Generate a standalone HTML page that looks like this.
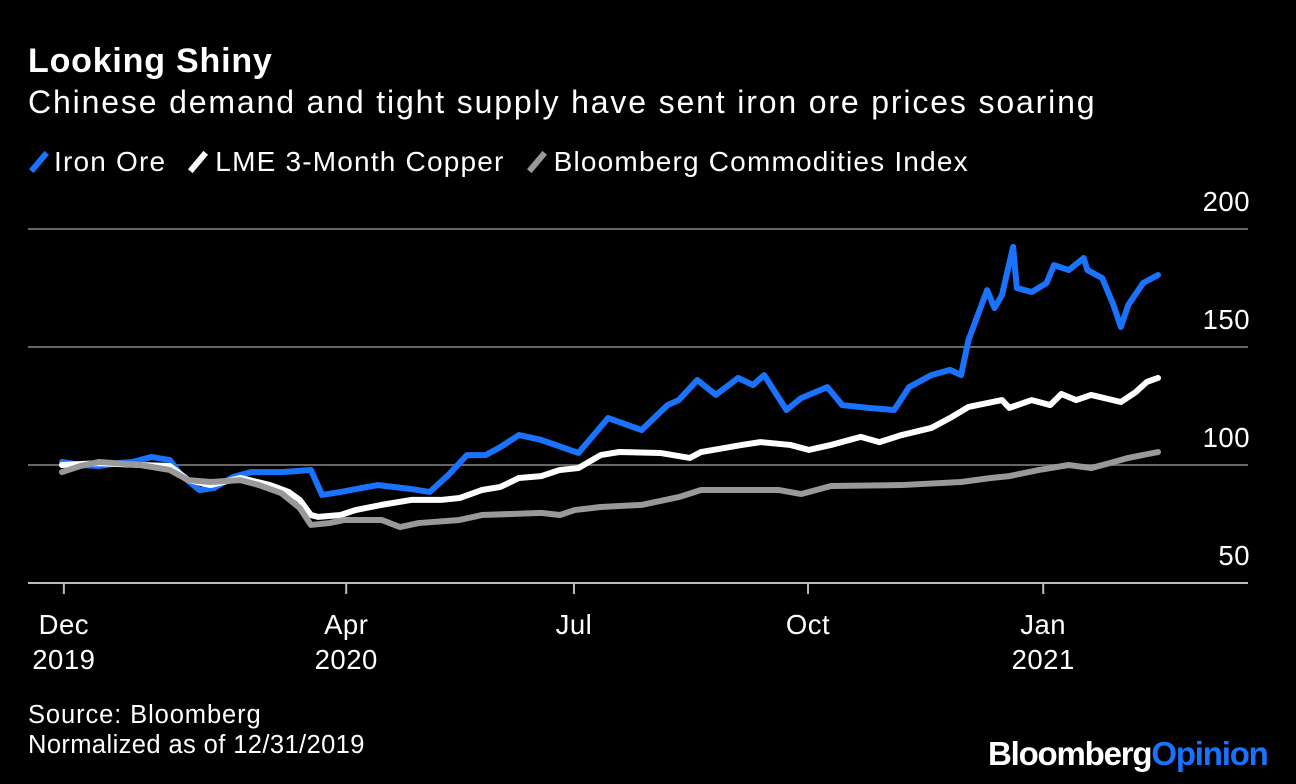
<!DOCTYPE html>
<html><head><meta charset="utf-8"><style>
html,body{margin:0;padding:0;background:#000;width:1296px;height:784px;overflow:hidden;font-family:"Liberation Sans",sans-serif;color:#fff}
.t{position:absolute;white-space:nowrap}
</style></head><body>
<div class="t" style="left:28px;top:42px;font-size:34px;font-weight:bold;letter-spacing:0.8px">Looking Shiny</div>
<div class="t" style="left:28px;top:84px;font-size:32px;letter-spacing:1.85px">Chinese demand and tight supply have sent iron ore prices soaring</div>
<div class="t" style="left:28px;top:146px;font-size:28px;letter-spacing:1.2px">
<span><span style="display:inline-block;width:6px;height:24px;background:#1a73ff;transform:rotate(40deg);vertical-align:-3px;margin:0 12px 0 8px"></span>Iron Ore</span>
<span><span style="display:inline-block;width:6px;height:24px;background:#fff;transform:rotate(40deg);vertical-align:-3px;margin:0 14px 0 20px"></span>LME 3-Month Copper</span>
<span><span style="display:inline-block;width:6px;height:24px;background:#999;transform:rotate(40deg);vertical-align:-3px;margin:0 14px 0 20px"></span>Bloomberg Commodities Index</span>
</div>
<svg id="chart" width="1296" height="784" style="position:absolute;left:0;top:0"></svg>
<div class="t" style="left:28px;top:701px;font-size:25.5px;letter-spacing:0.9px">Source: Bloomberg</div>
<div class="t" style="left:28px;top:731px;font-size:25.5px;letter-spacing:0.4px">Normalized as of 12/31/2019</div>
<div class="t" style="left:988px;top:735px;font-size:33px;font-weight:bold;letter-spacing:-1.2px">Bloomberg<span style="color:#1a73ff">Opinion</span></div>
<script>
const ironDays=[0,5,10,15,19,24,29,32,37,41,46,51,59,67,70,75,85,94,99,104,109,114,118,123,129,139,147,156,163,166,171,176,182,186,189,195,199,206,210,217,224,228,234,239,242,244,249,251,253,256,257,261,265,267,271,275,276,280,283,285,287,291,295];
const ironVals=[101.3,100,99.6,100.8,101.3,103.4,102.1,95.8,89.4,90.3,94.9,97,97,97.9,87.3,88.6,91.5,89.8,88.6,95.8,104.2,104.2,107.6,112.7,110.6,105.1,119.9,114.8,125.4,127.5,136,129.7,136.9,133.9,138.1,123.3,128.4,133,125.4,124.2,123.3,133,138.1,140.3,138.1,153,174.1,166.5,172,192.4,175,173.3,177.1,184.7,182.6,187.7,182.6,179.2,167.8,158.5,167.8,177.1,180.5];
const copperDays=[0,10,21,29,34,40,48,56,61,64,67,69,75,79,86,94,102,107,113,118,123,129,134,139,145,150,161,169,172,183,188,196,201,207,215,220,226,234,239,244,253,255,261,266,269,273,277,285,289,292,295];
const copperVals=[100,100.8,100,99.6,93.6,91.5,94.5,91.5,88.6,85.2,78.8,78,78.8,80.9,83.1,85.2,85.2,86,89.4,90.7,94.5,95.3,97.9,98.7,104.2,105.5,105.1,103,105.5,108.5,109.7,108.5,106.4,108.5,111.9,109.7,112.7,115.7,119.9,124.6,127.5,124.2,127.5,125.4,130.1,127.5,129.7,126.7,130.9,135.2,136.9];
const bcomDays=[0,5,10,21,29,34,40,48,53,59,64,67,72,76,86,91,96,107,113,129,134,138,145,156,166,172,183,193,199,207,226,242,250,255,263,271,277,282,287,295];
const bcomVals=[97,99.6,101.3,100,97.9,93.6,92.8,93.6,91.5,88.1,81.8,74.6,75.4,76.7,76.7,73.7,75.4,76.7,78.8,79.7,78.8,80.9,82.2,83.1,86.4,89.4,89.4,89.4,87.7,91.1,91.5,92.8,94.5,95.3,97.9,100,98.7,100.8,103,105.5];
const yTicks=[50,100,150,200];
const xTickDays=[0.5,76.5,137.8,200.8,264.1];
const xTickMonths=["Dec","Apr","Jul","Oct","Jan"];
const xTickYears=["2019","2020","","","2021"];

const NS="http://www.w3.org/2000/svg";
const svg=document.getElementById('chart');
const y=v=>465-(v-100)*2.36;
const x=d=>62+d*(1096/295);
function mk(tag,attrs){const e=document.createElementNS(NS,tag);for(const k in attrs)e.setAttribute(k,attrs[k]);svg.appendChild(e);return e;}
const F='Liberation Sans, sans-serif';
yTicks.forEach(t=>{
  const l=mk('line',{x1:28,x2:1248,y1:y(t),y2:y(t),stroke:t===50?'#bbb':'#666','stroke-width':2});
  
  
  const tx=mk('text',{x:1250,y:y(t)-18,'text-anchor':'end','font-size':27.5,'letter-spacing':0.5,fill:'#fff','font-family':F});
  tx.textContent=t;
  
  
});
xTickDays.forEach((d,i)=>{
  const l=mk('line',{x1:x(d),x2:x(d),y1:582,y2:594,stroke:'#bbb','stroke-width':2});
  
  
  const t=mk('text',{x:x(d),y:634,'text-anchor':'middle','font-size':27.5,'letter-spacing':0.5,fill:'#fff','font-family':F});
  t.textContent=xTickMonths[i];
  
  
  if(xTickYears[i]){
    const t2=mk('text',{x:x(d),y:669,'text-anchor':'middle','font-size':27.5,'letter-spacing':0.5,fill:'#fff','font-family':F});
    t2.textContent=xTickYears[i];
    
    
  }
});
function line(days,vals,color,name){
  const p=mk('polyline',{points:days.map((d,i)=>x(d)+','+y(vals[i])).join(' '),fill:'none',stroke:color,'stroke-width':6,'stroke-linejoin':'round','stroke-linecap':'round'});
  
  
}
line(ironDays,ironVals,'#1a73ff','iron-ore-line');
line(copperDays,copperVals,'#ffffff','copper-line');
line(bcomDays,bcomVals,'#999999','bcom-line');
</script>
</body></html>
